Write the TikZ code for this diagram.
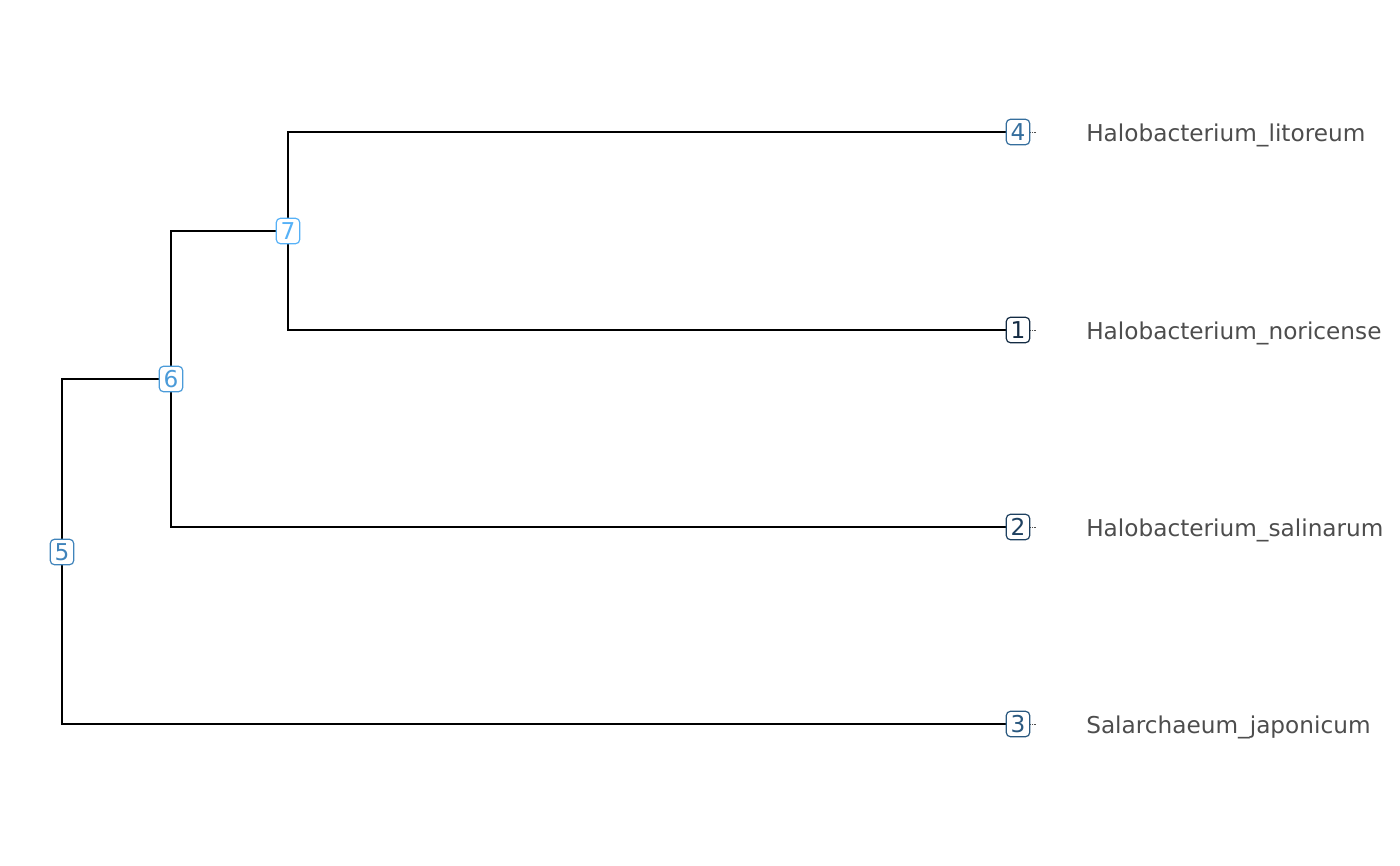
\documentclass[tikz,border=0pt]{standalone}
\usepackage{fontspec}
\setmainfont{DejaVu Sans}
\definecolor{c1}{RGB}{19,43,67}
\definecolor{c2}{RGB}{30,65,97}
\definecolor{c3}{RGB}{41,88,127}
\definecolor{c4}{RGB}{53,110,157}
\definecolor{c5}{RGB}{64,132,187}
\definecolor{c6}{RGB}{75,155,217}
\definecolor{c7}{RGB}{86,177,247}
\definecolor{labgrey}{RGB}{77,77,77}
\begin{document}
\begin{tikzpicture}[x=0.75pt,y=-0.75pt,
  edge/.style={line width=2.2pt,black},
  numbox/.style={draw=#1,text=#1,fill=white,rounded corners=3pt,line width=0.9pt,
    inner sep=0pt,minimum width=17.5pt,minimum height=19pt,font=\fontsize{17.4}{18}\selectfont},
  tiplab/.style={anchor=base west,text=labgrey,inner sep=0pt,font=\fontsize{17.4}{18}\selectfont},
  tick/.style={line width=0.3pt,labgrey,densely dotted}]
\useasboundingbox (0,0) rectangle (1400,865);
\coordinate (p4) at (1018,132);
\coordinate (p1) at (1018,330);
\coordinate (p2) at (1018,527);
\coordinate (p3) at (1018,724);
\coordinate (p7) at (288,231);
\coordinate (p6) at (171,379);
\coordinate (p5) at (62,552);
\coordinate (e4) at (1036,132);
\coordinate (e1) at (1036,330);
\coordinate (e2) at (1036,527);
\coordinate (e3) at (1036,724);
% edges
\draw[edge] (p7) |- (p4);
\draw[edge] (p7) |- (p1);
\draw[edge] (p6) |- (p7);
\draw[edge] (p6) |- (p2);
\draw[edge] (p5) |- (p6);
\draw[edge] (p5) |- (p3);
% ticks
\draw[tick] (p4) -- (e4);
\draw[tick] (p1) -- (e1);
\draw[tick] (p2) -- (e2);
\draw[tick] (p3) -- (e3);
% node boxes
\node[numbox=c4] (n4) at (p4) {4};
\node[numbox=c1] (n1) at (p1) {1};
\node[numbox=c2] (n2) at (p2) {2};
\node[numbox=c3] (n3) at (p3) {3};
\node[numbox=c7] (n7) at (p7) {7};
\node[numbox=c6] (n6) at (p6) {6};
\node[numbox=c5] (n5) at (p5) {5};
% tip labels
\node[tiplab] (t4) at (1086,141) {Halobacterium\_litoreum};
\node[tiplab] (t1) at (1086,339) {Halobacterium\_noricense};
\node[tiplab] (t2) at (1086,536) {Halobacterium\_salinarum};
\node[tiplab] (t3) at (1086,733) {Salarchaeum\_japonicum};
\end{tikzpicture}
\end{document}
